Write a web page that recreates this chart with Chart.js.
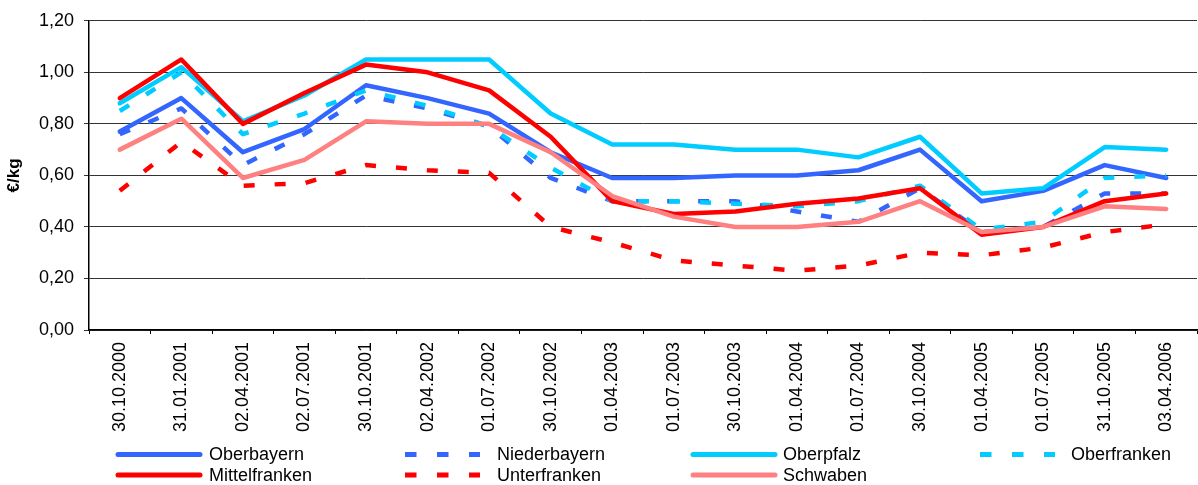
<!DOCTYPE html>
<html>
<head>
<meta charset="utf-8">
<script src="https://cdn.jsdelivr.net/npm/chart.js@4/dist/chart.umd.min.js"></script>
<style>
  html, body { margin: 0; padding: 0; background: #fff; }
  #wrap { width: 1198px; height: 485px; position: relative; }
</style>
</head>
<body>
<div id="wrap"><canvas id="chart"></canvas></div>
<script>
// === DATA ===
const categories = ['30.10.2000', '31.01.2001', '02.04.2001', '02.07.2001', '30.10.2001', '02.04.2002',
  '01.07.2002', '30.10.2002', '01.04.2003', '01.07.2003', '30.10.2003', '01.04.2004',
  '01.07.2004', '30.10.2004', '01.04.2005', '01.07.2005', '31.10.2005', '03.04.2006'];

const oberbayern    = [0.77, 0.90, 0.69, 0.78, 0.95, 0.90, 0.84, 0.69, 0.59, 0.59, 0.60, 0.60, 0.62, 0.70, 0.50, 0.54, 0.64, 0.59];
const niederbayern  = [0.76, 0.86, 0.64, 0.76, 0.91, 0.86, 0.79, 0.59, 0.50, 0.50, 0.50, 0.46, 0.42, 0.55, 0.38, 0.40, 0.53, 0.53];
const oberpfalz     = [0.88, 1.02, 0.81, 0.91, 1.05, 1.05, 1.05, 0.84, 0.72, 0.72, 0.70, 0.70, 0.67, 0.75, 0.53, 0.55, 0.71, 0.70];
const oberfranken   = [0.85, 1.00, 0.76, 0.84, 0.93, 0.87, 0.79, 0.63, 0.50, 0.50, 0.49, 0.48, 0.50, 0.56, 0.39, 0.42, 0.59, 0.60];
const mittelfranken = [0.90, 1.05, 0.80, 0.92, 1.03, 1.00, 0.93, 0.75, 0.50, 0.45, 0.46, 0.49, 0.51, 0.55, 0.37, 0.40, 0.50, 0.53];
const unterfranken  = [0.54, 0.73, 0.56, 0.57, 0.64, 0.62, 0.61, 0.40, 0.34, 0.27, 0.25, 0.23, 0.25, 0.30, 0.29, 0.32, 0.38, 0.41];
const schwaben      = [0.70, 0.82, 0.59, 0.66, 0.81, 0.80, 0.80, 0.69, 0.52, 0.44, 0.40, 0.40, 0.42, 0.50, 0.38, 0.40, 0.48, 0.47];

const yTicks = [0, 0.2, 0.4, 0.6, 0.8, 1.0, 1.2];

// === STYLE ===
const FONT = "'Liberation Sans', Arial, sans-serif";
const BLUE = '#3366FF', CYAN = '#00CCFF', RED = '#FF0000', PINK = '#FF8080';
const DASH = [11, 20];

function line(label, data, color, dashed, order) {
  return {
    label, data,
    borderColor: color,
    backgroundColor: color,
    borderWidth: 4.5,
    borderDash: dashed ? DASH : [],
    borderCapStyle: dashed ? 'butt' : 'round',
    borderJoinStyle: 'round',
    pointRadius: 0,
    tension: 0,
    fill: false,
    order
  };
}

const datasets = [
  line('Oberbayern', oberbayern, BLUE, false, 6),
  line('Niederbayern', niederbayern, BLUE, true, 5),
  line('Oberpfalz', oberpfalz, CYAN, false, 4),
  line('Oberfranken', oberfranken, CYAN, true, 3),
  line('Mittelfranken', mittelfranken, RED, false, 2),
  line('Unterfranken', unterfranken, RED, true, 1),
  line('Schwaben', schwaben, PINK, false, 0)
];

// === LEGEND (4 Spalten, 2 Zeilen) ===
const legendCols = [
  { x0: 118, x1: 200, tx: 209 },
  { x0: 405, x1: 480, tx: 497 },
  { x0: 693, x1: 775, tx: 783 },
  { x0: 980, x1: 1055, tx: 1071 }
];
const legendRows = [454.5, 475];

const legendPlugin = {
  id: 'bottomLegend',
  afterDraw(chart) {
    const ctx = chart.ctx;
    chart.data.datasets.forEach((ds, i) => {
      const col = legendCols[i % 4];
      const y = legendRows[Math.floor(i / 4)];
      ctx.save();
      ctx.strokeStyle = ds.borderColor;
      ctx.lineWidth = 5;
      ctx.lineCap = ds.borderDash.length ? 'butt' : 'round';
      ctx.setLineDash(ds.borderDash.length ? [11.5, 20.5] : []);
      ctx.beginPath();
      ctx.moveTo(col.x0, y);
      ctx.lineTo(col.x1, y);
      ctx.stroke();
      ctx.setLineDash([]);
      ctx.fillStyle = '#000';
      ctx.font = '18px ' + FONT;
      ctx.textBaseline = 'middle';
      ctx.fillText(ds.label, col.tx, y + 1);
      ctx.restore();
    });
  }
};

// === CHART ===
new Chart(document.getElementById('chart'), {
  type: 'line',
  data: { labels: categories, datasets },
  plugins: [legendPlugin],
  options: {
    responsive: true,
    maintainAspectRatio: false,
    animation: false,
    layout: { padding: { top: 16, right: 1, left: 0, bottom: 0 } },
    plugins: { legend: { display: false }, tooltip: { enabled: false } },
    scales: {
      x: {
        type: 'category',
        offset: true,
        grid: { offset: true, drawOnChartArea: false, color: '#000', tickLength: 4, lineWidth: 1 },
        border: { color: '#000', width: 1.5 },
        ticks: {
          minRotation: 90, maxRotation: 90, autoSkip: false,
          padding: 8, color: '#000', font: { family: FONT, size: 18 }
        },
        afterFit(scale) { scale.height = 155; }
      },
      y: {
        min: 0, max: 1.2,
        afterBuildTicks(scale) { scale.ticks = yTicks.map(v => ({ value: v })); },
        grid: { color: '#333', lineWidth: 1, tickLength: 5 },
        border: { color: '#000', width: 1.5 },
        ticks: {
          padding: 10, color: '#000', font: { family: FONT, size: 18 },
          callback: v => v.toFixed(2).replace('.', ',')
        },
        title: {
          display: true, text: '€/kg', color: '#000',
          font: { family: FONT, size: 17, weight: 'bold' }, padding: { top: 4, bottom: 2 }
        },
        afterFit(scale) { scale.width = 89; }
      }
    }
  }
});
</script>
</body>
</html>
